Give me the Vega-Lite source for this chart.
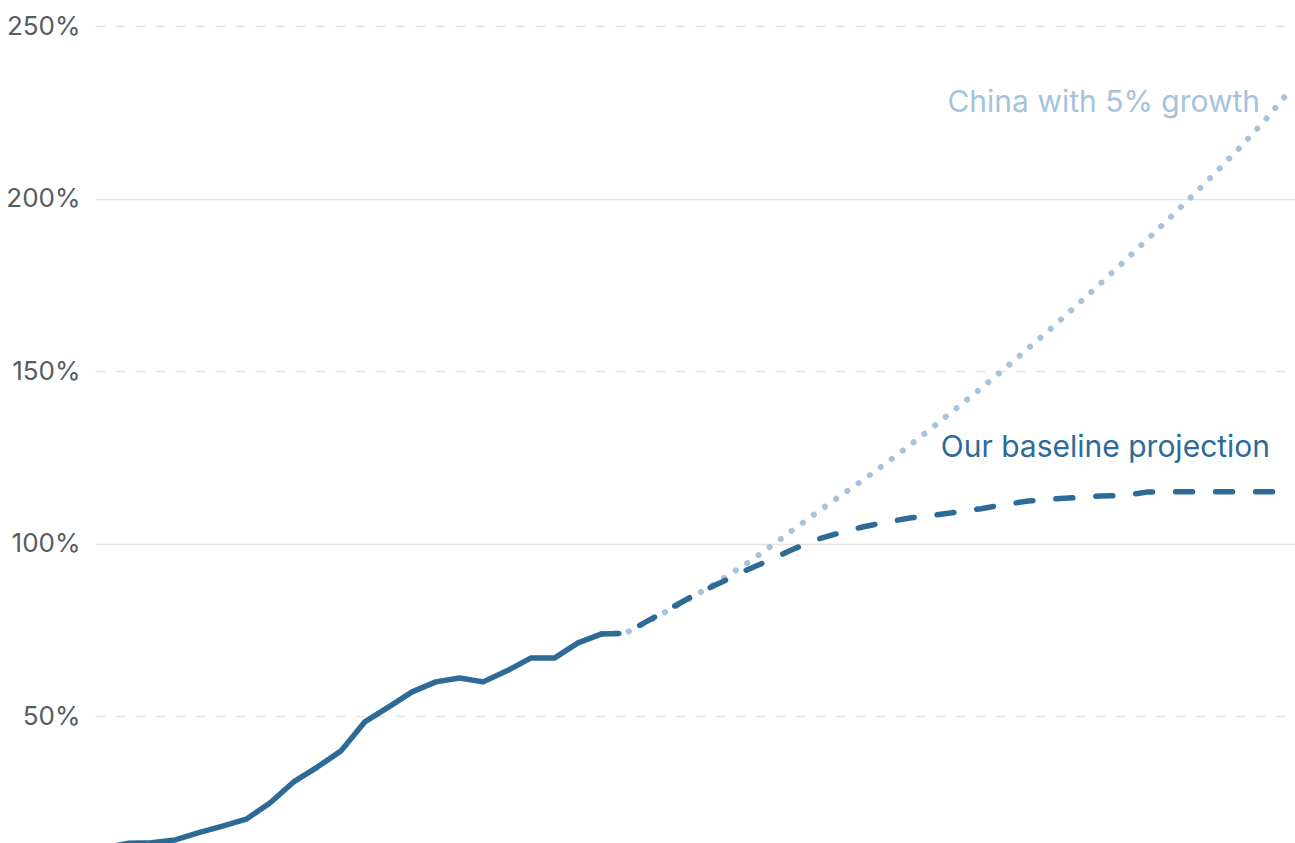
{
  "$schema": "https://vega.github.io/schema/vega-lite/v6.json",
  "width": 1200,
  "height": 817,
  "autosize": {"type": "none"},
  "padding": {"left": 95, "top": 26, "right": 0, "bottom": 0},
  "background": "#ffffff",
  "config": {"view": {"stroke": null}, "font": "Inter"},
  "datasets": {
    "hist": [
      {"year": 2000, "value": 11.8}, {"year": 2001, "value": 13.1}, {"year": 2002, "value": 13.3},
      {"year": 2003, "value": 14.1}, {"year": 2004, "value": 16.2}, {"year": 2005, "value": 18.1},
      {"year": 2006, "value": 20.1}, {"year": 2007, "value": 24.8}, {"year": 2008, "value": 30.9},
      {"year": 2009, "value": 35.2}, {"year": 2010, "value": 39.9}, {"year": 2011, "value": 48.3},
      {"year": 2012, "value": 52.6}, {"year": 2013, "value": 57.0}, {"year": 2014, "value": 59.9},
      {"year": 2015, "value": 61.0}, {"year": 2016, "value": 59.9}, {"year": 2017, "value": 63.1},
      {"year": 2018, "value": 66.8}, {"year": 2019, "value": 66.8}, {"year": 2020, "value": 71.2},
      {"year": 2021, "value": 73.8}
    ],
    "base": [
      {"year": 2021, "value": 73.8}, {"year": 2022, "value": 74.0}, {"year": 2023, "value": 77.8},
      {"year": 2024, "value": 81.6}, {"year": 2025, "value": 85.4}, {"year": 2026, "value": 88.6},
      {"year": 2027, "value": 92.0}, {"year": 2028, "value": 94.9}, {"year": 2029, "value": 98.1},
      {"year": 2030, "value": 101.0}, {"year": 2031, "value": 103.0}, {"year": 2032, "value": 104.8},
      {"year": 2033, "value": 106.2}, {"year": 2034, "value": 107.4}, {"year": 2035, "value": 108.2},
      {"year": 2036, "value": 109.1}, {"year": 2037, "value": 110.1}, {"year": 2038, "value": 111.3},
      {"year": 2039, "value": 112.3}, {"year": 2040, "value": 112.9}, {"year": 2041, "value": 113.3},
      {"year": 2042, "value": 113.8}, {"year": 2043, "value": 113.9}, {"year": 2044, "value": 114.9},
      {"year": 2045, "value": 115.0}, {"year": 2046, "value": 115.0}, {"year": 2047, "value": 115.0},
      {"year": 2048, "value": 115.0}, {"year": 2049, "value": 115.0}, {"year": 2050, "value": 115.0}
    ],
    "china": [
      {"year": 2021, "value": 73.8}, {"year": 2022, "value": 74.0}, {"year": 2023, "value": 77.6},
      {"year": 2024, "value": 81.3}, {"year": 2025, "value": 85.2}, {"year": 2026, "value": 89.3},
      {"year": 2027, "value": 93.7}, {"year": 2028, "value": 98.5}, {"year": 2029, "value": 103.6},
      {"year": 2030, "value": 108.6}, {"year": 2031, "value": 113.5}, {"year": 2032, "value": 118.3},
      {"year": 2033, "value": 123.3}, {"year": 2034, "value": 128.5}, {"year": 2035, "value": 133.9},
      {"year": 2036, "value": 139.4}, {"year": 2037, "value": 145.0}, {"year": 2038, "value": 150.7},
      {"year": 2039, "value": 156.6}, {"year": 2040, "value": 162.6}, {"year": 2041, "value": 168.8},
      {"year": 2042, "value": 175.1}, {"year": 2043, "value": 181.5}, {"year": 2044, "value": 188.0},
      {"year": 2045, "value": 194.6}, {"year": 2046, "value": 201.3}, {"year": 2047, "value": 208.2},
      {"year": 2048, "value": 215.3}, {"year": 2049, "value": 222.8}, {"year": 2050, "value": 231.0}
    ]
  },
  "encoding": {
    "x": {"field": "year", "type": "quantitative", "axis": null,
          "scale": {"domain": [1999.62, 2050.25], "nice": false, "zero": false}},
    "y": {"field": "value", "type": "quantitative",
          "scale": {"domain": [13.2, 250], "nice": false, "zero": false},
          "axis": {"title": null, "values": [50, 100, 150, 200, 250],
                   "labelExpr": "datum.value + '%'",
                   "domain": false, "ticks": false,
                   "labelPadding": 15, "labelFontSize": 26, "labelFont": "Inter",
                   "labelColor": "#575c63", "labelFontWeight": 400,
                   "gridColor": "#e4e4e4", "gridWidth": 1.6,
                   "gridDash": {"condition": {"test": "datum.value % 100 === 0", "value": []}, "value": [10, 10]}}}
  },
  "layer": [
    {
      "data": {"name": "china"},
      "mark": {"type": "line", "color": "#a6c2dc", "strokeWidth": 6, "strokeCap": "round", "strokeDash": [0.1, 13.6], "clip": true}
    },
    {
      "data": {"name": "base"},
      "mark": {"type": "line", "color": "#2e6a96", "strokeWidth": 5.5, "strokeCap": "round", "strokeJoin": "round", "strokeDash": [17, 23], "clip": true}
    },
    {
      "data": {"name": "hist"},
      "mark": {"type": "line", "color": "#2e6a96", "strokeWidth": 5.5, "strokeCap": "round", "strokeJoin": "round", "clip": true}
    },
    {
      "data": {"name": "china"},
      "transform": [{"filter": "datum.year === 2050"}],
      "mark": {"type": "text", "align": "right", "baseline": "alphabetic", "dx": -29, "dy": 20, "font": "Inter", "fontSize": 30, "color": "#a6c2dc"},
      "encoding": {"text": {"value": "China with 5% growth"}}
    },
    {
      "data": {"name": "base"},
      "transform": [{"filter": "datum.year === 2050"}],
      "mark": {"type": "text", "align": "right", "baseline": "alphabetic", "dx": -19, "dy": -35, "font": "Inter", "fontSize": 30, "color": "#2e6a96"},
      "encoding": {"text": {"value": "Our baseline projection"}}
    }
  ]
}
